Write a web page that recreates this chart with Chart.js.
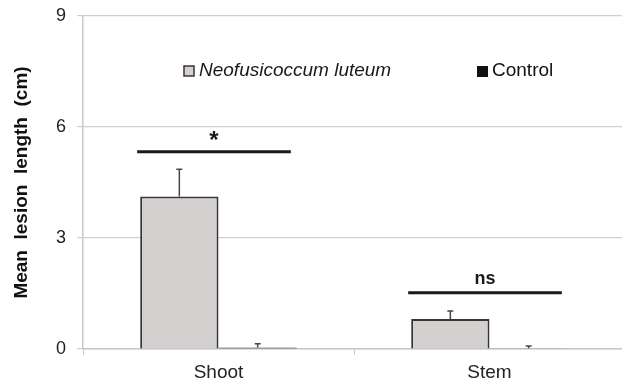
<!DOCTYPE html>
<html>
<head>
<meta charset="utf-8">
<script src="https://cdn.jsdelivr.net/npm/chart.js@4"></script>
<style>
  html, body { margin: 0; padding: 0; background: #fff; overflow: hidden; }
  #wrap { width: 622px; height: 385px; overflow: hidden; }
</style>
</head>
<body>
<div id="wrap"><canvas id="chart" width="625" height="385"></canvas></div>
<script>
const categories = ['Shoot', 'Stem'];
const seriesNames = ['Neofusicoccum luteum', 'Control'];
const luteumValues = [4.12, 0.81];
const luteumErrors = [0.74, 0.22];
const controlValues = [0.04, 0.02];
const controlErrors = [0.10, 0.06];
const sigLabels = ['*', 'ns'];
const sigHeights = [5.33, 1.52];
const yTicks = [0, 3, 6, 9];

const FONT = "'Liberation Sans', Arial, sans-serif";

// error bars, significance bars and the legend are drawn on top of the bars
const extras = {
    id: 'extras',
    afterDatasetsDraw(chart) {
        const ctx = chart.ctx;
        const y = chart.scales.y;
        const errs = [luteumErrors, controlErrors];
        ctx.save();
        ctx.strokeStyle = '#4a4545';
        ctx.lineWidth = 1.5;
        errs.forEach((err, di) => {
            const meta = chart.getDatasetMeta(di);
            meta.data.forEach((bar, i) => {
                const v = chart.data.datasets[di].data[i];
                const yTop = y.getPixelForValue(v + err[i]);
                ctx.beginPath();
                ctx.moveTo(bar.x, bar.y);
                ctx.lineTo(bar.x, yTop);
                ctx.moveTo(bar.x - 3, yTop);
                ctx.lineTo(bar.x + 3, yTop);
                ctx.stroke();
            });
        });

        // significance lines
        const m0 = chart.getDatasetMeta(0), m1 = chart.getDatasetMeta(1);
        ctx.strokeStyle = '#1a1a1a';
        ctx.lineWidth = 3;
        ctx.fillStyle = '#1a1a1a';
        ctx.textAlign = 'center';
        ctx.textBaseline = 'alphabetic';
        sigHeights.forEach((h, i) => {
            const a = m0.data[i], b = m1.data[i];
            const x0 = a.x - a.width / 2 - 3;
            const x1 = b.x + b.width / 2 - 6;
            const py = y.getPixelForValue(h);
            ctx.beginPath();
            ctx.moveTo(x0, py);
            ctx.lineTo(x1, py);
            ctx.stroke();
            if (i === 0) {
                ctx.font = 'bold 24px ' + FONT;
                ctx.fillText(sigLabels[i], (x0 + x1) / 2, py - 4);
            } else {
                ctx.font = 'bold 18px ' + FONT;
                ctx.fillText(sigLabels[i], (x0 + x1) / 2, py - 9);
            }
        });

        // legend inside the plot
        const ly = 71;
        ctx.textAlign = 'left';
        ctx.textBaseline = 'middle';
        ctx.lineWidth = 1.5;
        ctx.fillStyle = '#d4d0cf';
        ctx.strokeStyle = '#3a3535';
        ctx.fillRect(184, ly - 5, 10, 10);
        ctx.strokeRect(184, ly - 5, 10, 10);
        ctx.fillStyle = '#1a1a1a';
        ctx.font = 'italic 19px ' + FONT;
        ctx.fillText(seriesNames[0], 199, ly);
        ctx.fillStyle = '#111';
        ctx.fillRect(477, ly - 5, 11, 11);
        ctx.font = '19px ' + FONT;
        ctx.fillText(seriesNames[1], 492, ly);
        ctx.restore();
    }
};

new Chart(document.getElementById('chart'), {
    type: 'bar',
    data: {
        labels: categories,
        datasets: [
            {
                label: seriesNames[0],
                data: luteumValues,
                backgroundColor: '#d4d0cf',
                borderColor: '#3a3535',
                borderWidth: 2,
                borderSkipped: 'bottom',
                categoryPercentage: 0.578,
                barPercentage: 1
            },
            {
                label: seriesNames[1],
                data: controlValues,
                backgroundColor: '#2a2525',
                borderColor: '#3a3535',
                borderWidth: 2,
                borderSkipped: 'bottom',
                categoryPercentage: 0.578,
                barPercentage: 1
            }
        ]
    },
    options: {
        responsive: false,
        animation: false,
        layout: { padding: { top: 16, right: 0, left: 0, bottom: 0 } },
        plugins: {
            legend: { display: false },
            tooltip: { enabled: false }
        },
        scales: {
            x: {
                grid: {
                    drawOnChartArea: false,
                    offset: true,
                    tickLength: 6,
                    color: '#c8c8c8'
                },
                border: { color: '#c8c8c8', width: 1.5 },
                ticks: {
                    color: '#222',
                    font: { family: FONT, size: 19 },
                    padding: 6
                },
                afterFit: s => { s.height = 36; s.paddingLeft = 0; s.paddingRight = 0; }
            },
            y: {
                min: 0,
                max: 9,
                afterBuildTicks: s => { s.ticks = yTicks.map(v => ({ value: v })); },
                grid: {
                    color: '#cfcfcf',
                    tickLength: 6,
                    lineWidth: 1.2
                },
                border: { color: '#c8c8c8', width: 1.5 },
                ticks: {
                    color: '#222',
                    font: { family: FONT, size: 18 },
                    padding: 11
                },
                title: {
                    display: true,
                    text: 'Mean  lesion  length  (cm)',
                    color: '#111',
                    font: { family: FONT, size: 19, weight: 'bold' },
                    padding: { top: 10, bottom: 0 }
                },
                afterFit: s => { s.width = 83; s.paddingTop = 0; s.paddingBottom = 0; }
            }
        }
    },
    plugins: [extras]
});
</script>
</body>
</html>
